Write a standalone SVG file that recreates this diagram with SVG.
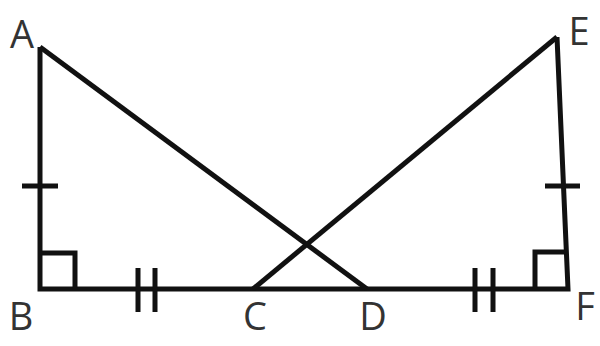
<svg xmlns="http://www.w3.org/2000/svg" width="600" height="346" viewBox="0 0 600 346">
<style>
.ln{stroke:#111;stroke-width:5;fill:none;stroke-linecap:butt;stroke-linejoin:miter}
.lb{font-family:"Open Sans","Liberation Sans",sans-serif;font-size:38px;fill:#333}
</style>
<rect width="600" height="346" fill="#fff"/>
<g id="connectors">
<path class="ln" d="M40,47 L40,289 L568,289 L557,37"/>
<path class="ln" d="M40,47 L367,289"/>
<path class="ln" d="M557,37 L253,289"/>
<path class="ln" d="M40,253 L75,253 L75,289"/>
<path class="ln" d="M567,252 L535,252 L535,289"/>
<path class="ln" d="M22,186 L58,186"/>
<path class="ln" d="M545,186 L580,186"/>
<path class="ln" d="M138,268 L138,312 M155,268 L155,312"/>
<path class="ln" d="M475,268 L475,312 M493,268 L493,312"/>
</g>
<g id="A"><text class="lb" x="22" y="48" text-anchor="middle">A</text></g>
<g id="B"><text class="lb" x="21" y="330" text-anchor="middle">B</text></g>
<g id="C"><text class="lb" x="255" y="330" text-anchor="middle">C</text></g>
<g id="D"><text class="lb" x="373" y="330" text-anchor="middle">D</text></g>
<g id="E"><text class="lb" x="579" y="45" text-anchor="middle">E</text></g>
<g id="F"><text class="lb" x="585" y="320" text-anchor="middle">F</text></g>
</svg>
